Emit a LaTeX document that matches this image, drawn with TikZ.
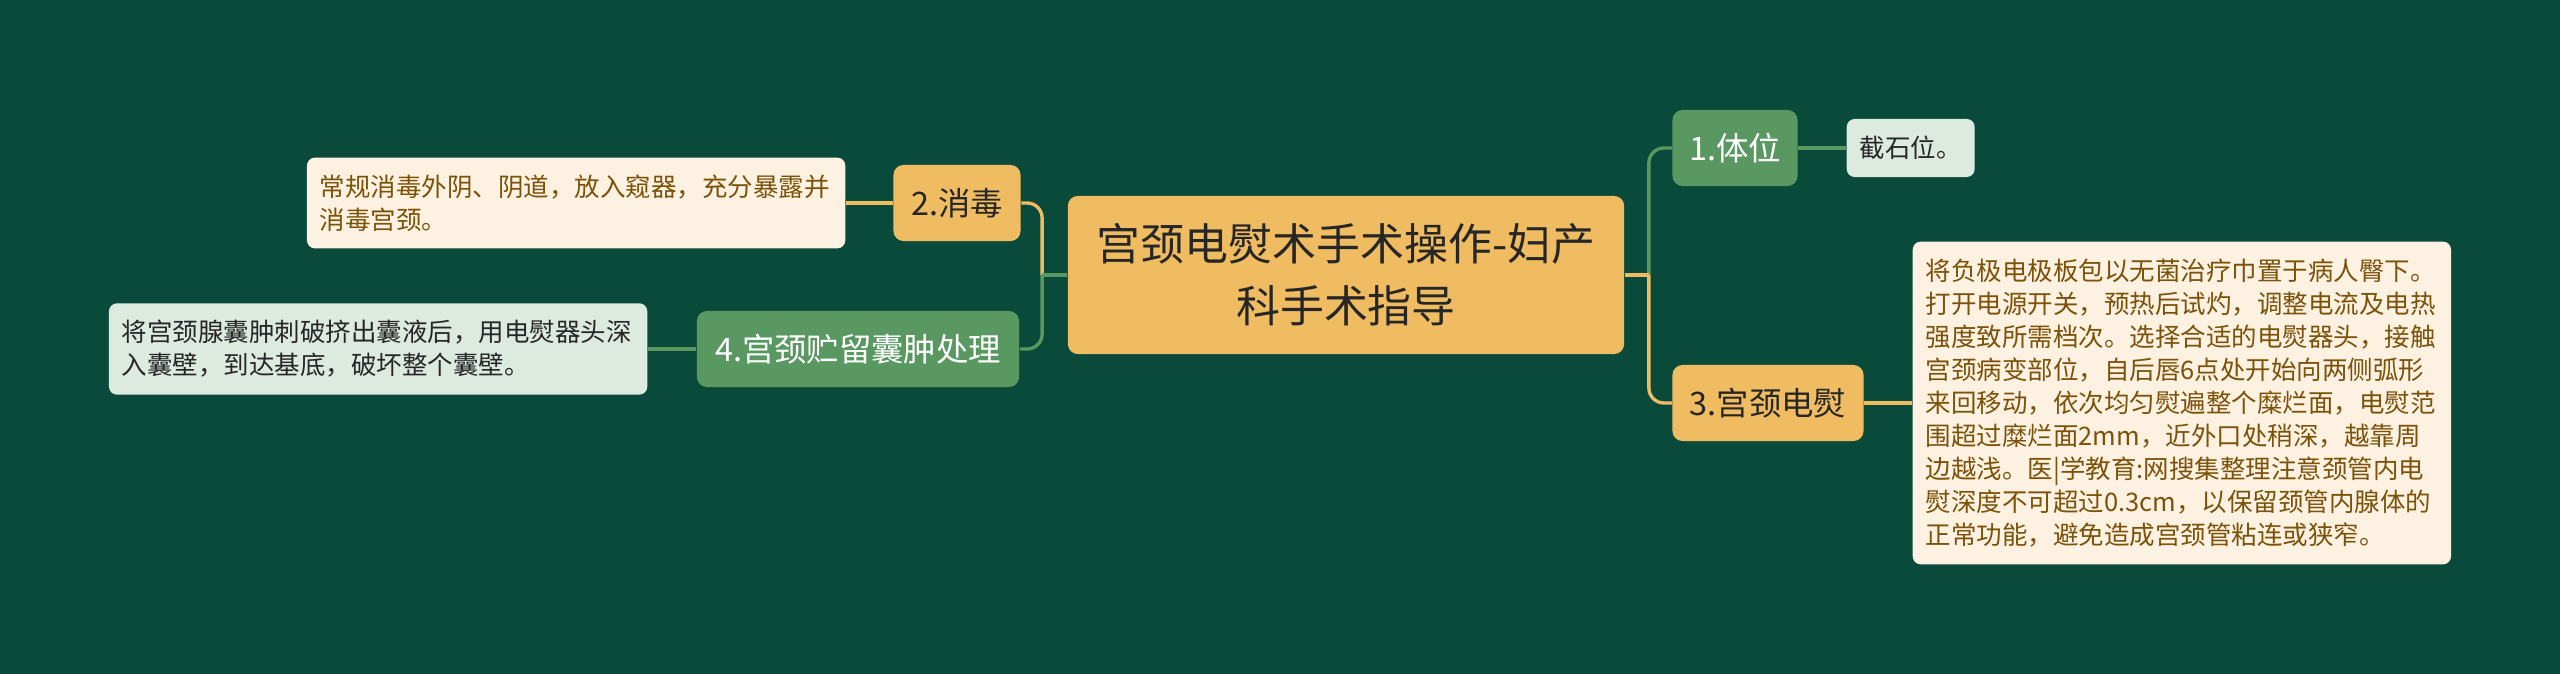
\documentclass[tikz,border=0pt]{standalone}
\usepackage{fontspec}
\newfontfamily\cjk{Noto Sans CJK SC}
\usetikzlibrary{calc,positioning}

\definecolor{bgcol}{HTML}{0A4A3A}
\definecolor{yfill}{HTML}{F0BC62}
\definecolor{gfill}{HTML}{5A9862}
\definecolor{yleaf}{HTML}{FDF1E2}
\definecolor{gleaf}{HTML}{DDEAE0}
\definecolor{brown}{HTML}{7C5208}
\definecolor{ink}{HTML}{262626}

\tikzset{
  root/.style = {rectangle, rounded corners=0.1cm, fill=yfill, text=ink, align=center,
    font=\cjk\fontsize{12.5}{17.6}\selectfont, minimum width=5.56cm, minimum height=1.58cm, inner sep=0},
  topic/.style = {rectangle, rounded corners=0.1cm, minimum height=0.76cm, inner sep=0,
    font=\cjk\fontsize{9.2}{12}\selectfont},
  topicY/.style = {topic, fill=yfill, text=ink},
  topicG/.style = {topic, fill=gfill, text=white},
  leaf/.style = {rectangle, rounded corners=0.08cm, align=left, inner xsep=0.13cm, inner ysep=0.17cm,
    font=\cjk\fontsize{7.25}{9.4}\selectfont},
  leafY/.style = {leaf, fill=yleaf, text=brown},
  leafG/.style = {leaf, fill=gleaf, text=ink},
  linkY/.style = {draw=yfill, line width=0.95pt},
  linkG/.style = {draw=gfill, line width=0.95pt},
  elbow/.style = {rounded corners=0.15cm}
}

\begin{document}
\begin{tikzpicture}[x=0.01cm, y=-0.01cm]
  \fill[bgcol] (0,0) rectangle (2560,674);
  \useasboundingbox (0,0) rectangle (2560,674);

  \node[root] (r) at (1346,275) {宫颈电熨术手术操作-妇产\\科手术指导};

  \node[topicY, minimum width=1.27cm] (xd) at (957,203) {2.消毒};
  \node[topicG, minimum width=3.22cm] (cz) at (858,349) {4.宫颈贮留囊肿处理};
  \node[topicG, minimum width=1.25cm] (tw) at (1735,148) {1.体位};
  \node[topicY, minimum width=1.91cm] (dy) at (1768,403) {3.宫颈电熨};

  \node[leafY, text width=5.12cm, anchor=east] (xdleaf) at (846,203)
    {常规消毒外阴、阴道，放入窥器，充分暴露并\\消毒宫颈。};
  \node[leafG, text width=5.12cm, anchor=east] (czleaf) at (648,349)
    {将宫颈腺囊肿刺破挤出囊液后，用电熨器头深\\入囊壁，到达基底，破坏整个囊壁。};
  \node[leafG, minimum height=0.58cm, inner ysep=0, anchor=west] (twleaf) at (1846,148) {截石位。};
  \node[leafY, text width=5.12cm, anchor=west] (dyleaf) at (1912,403)
    {将负极电极板包以无菌治疗巾置于病人臀下。\\
     打开电源开关，预热后试灼，调整电流及电热\\
     强度致所需档次。选择合适的电熨器头，接触\\
     宫颈病变部位，自后唇6点处开始向两侧弧形\\
     来回移动，依次均匀熨遍整个糜烂面，电熨范\\
     围超过糜烂面2mm，近外口处稍深，越靠周\\
     边越浅。医|学教育:网搜集整理注意颈管内电\\
     熨深度不可超过0.3cm，以保留颈管内腺体的\\
     正常功能，避免造成宫颈管粘连或狭窄。};

  \coordinate (lj) at ([xshift=-0.25cm]r.west);
  \coordinate (rj) at ([xshift=0.24cm]r.east);

  \draw[linkY, elbow] (lj) |- (xd.east);
  \draw[linkG] (r.west) -- (lj);
  \draw[linkG, elbow] (lj) |- (cz.east);
  \draw[linkG, elbow] (rj) |- (tw.west);
  \draw[linkY] (r.east) -- (rj);
  \draw[linkY, elbow] (rj) |- (dy.west);

  \draw[linkY] (xd.west) -- (xdleaf.east);
  \draw[linkG] (cz.west) -- (czleaf.east);
  \draw[linkG] (tw.east) -- (twleaf.west);
  \draw[linkY] (dy.east) -- (dyleaf.west);
\end{tikzpicture}
\end{document}
